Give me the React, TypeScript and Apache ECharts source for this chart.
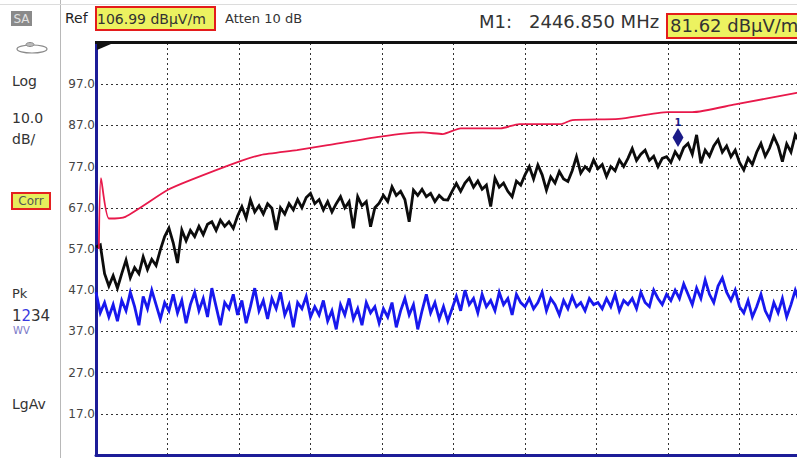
import React, { useEffect, useRef } from "react";
import * as echarts from "echarts";

// x step (in grid divisions) between trace points
const STEP = 0.06;
// bottom of the display in dBµV/m (Ref 106.99 → top ≈ 107, 10 dB/div)
const OFFSET = 7;

const blackTrace = [
  57.5, 58, 51, 48, 50.5, 47.5, 51, 54.3, 50, 52.5, 51, 55.1, 52, 54.5, 53, 56.8, 60,
  62.1, 58.5, 53.6, 61.6, 59, 61.5, 60, 62.5, 60.5, 63, 63.6, 61.5, 64, 62.5, 63.6, 62,
  65, 67.3, 64.5, 68.9, 66, 67.5, 65.5, 68, 66.9, 61.6, 67, 65.5, 68, 66.5, 69, 67,
  69.5, 70.5, 68, 69, 66.5, 68.5, 66, 68, 69.7, 67, 68.5, 62, 69.7, 67.5, 68.5, 62.4,
  67, 68.1, 70, 68.5, 72.1, 70, 71, 69, 63.6, 71.3, 70, 71.5, 69.7, 70.5, 68.5, 70,
  69, 68.9, 71, 72.9, 71, 73, 74.2, 72, 73.5, 71.5, 72.5, 67.3, 74.2, 72, 73, 71,
  69.7, 73.5, 72.5, 75, 77, 74, 77.4, 75, 71.3, 74.5, 73, 75.8, 74, 73.4, 76, 79.4,
  75.4, 77, 76, 78.6, 76.5, 77.5, 74.6, 77, 76, 78.6, 77, 79, 81.4, 78.5, 80, 81,
  78.5, 79.5, 77, 79, 79.4, 78, 80.6, 79, 81.6, 82.6, 80, 84.7, 77.8, 81, 79.5, 82,
  83.5, 80.5, 82, 79.4, 81, 78, 76.2, 79, 77.5, 80.5, 82.6, 79.5, 81.5, 84.3, 82,
  78.2, 82.5, 80.5, 84.7, 83, 84,
];

const blueTrace = [
  46.5, 41.5, 44, 40.5, 43.5, 39.5, 44.5, 42, 46.5, 43, 38.5, 45.5, 42.5, 47, 43.5, 40, 44,
  42, 46, 41.5, 44.5, 39, 43.5, 46.5, 42, 45, 40.5, 47.5, 43, 38.5, 44, 42.5, 46, 41,
  44.5, 39, 43, 47.5, 42, 44.5, 40, 45, 42.5, 46.5, 41, 43.5, 38, 44, 42.5, 45.5, 40.5,
  43, 41, 44.5, 39.5, 42, 37.5, 43.5, 41, 45, 40, 42.5, 38.5, 44, 41.5, 43, 39,
  42.5, 40.5, 44, 38, 42, 45, 41, 43.5, 37.5, 42, 46, 41.5, 44, 40, 43, 39.5, 42.5,
  45.5, 42, 47, 43.5, 45, 41.5, 46, 43, 44.5, 42, 46.5, 43.5, 45, 41, 46, 44, 43,
  45, 42.5, 44, 46.5, 42, 45, 43.5, 41, 44.5, 42.5, 45.5, 43, 44, 42, 45, 43.5,
  44, 42.5, 45, 43, 46, 42, 44.5, 43.5, 45, 42.5, 46.5, 44, 43, 47, 45, 43.5, 46,
  44.5, 47, 45, 48.5, 46, 43.5, 47.5, 45, 49.5, 46, 44, 48, 50, 46.5, 44.5, 47, 43,
  41.5, 44.5, 40.5, 43, 46, 42, 40, 44, 41.5, 45, 40.5, 43.5, 47, 44, 46,
];

const redX = [0.04, 0.07, 0.18, 0.41, 1.0, 1.32, 2.0, 2.3, 2.81, 3.24, 3.98, 4.57, 4.85, 5.1, 5.66, 5.92, 6.5, 6.66, 7.31, 8.0, 8.34, 8.94, 9.8, 10];
const redY = [57, 74.2, 64.4, 64.8, 71.3, 73.7, 78.2, 79.8, 81, 82.2, 84.3, 85.3, 84.9, 86.3, 86.3, 87.3, 87.3, 88.3, 88.6, 90.2, 90.2, 92.1, 94.9, 95.5];

const markerX = 8.14;
const markerY = 81.62;

const FONT = "DejaVu Sans";

export default function App() {
  const ref = useRef<HTMLDivElement>(null);
  useEffect(() => {
    if (!ref.current) return;
    const chart = echarts.init(ref.current, null, { renderer: "svg" });
    const txt = (text: string, x: number, y: number, size: number, fill = "#333", extra: any = {}) => ({
      type: "text",
      x,
      y,
      silent: true,
      style: { text, fill, fontSize: size, fontFamily: FONT, verticalAlign: "middle", ...extra },
      z: 10,
    });
    chart.setOption({
      animation: false,
      backgroundColor: "#ffffff",
      grid: { left: 96, top: 43, right: -14, bottom: 3, containLabel: false, outerBoundsMode: "none" },
      xAxis: {
        type: "value",
        min: 0,
        max: 10,
        interval: 1,
        axisLabel: { show: false },
        axisTick: { show: false },
        axisLine: { show: true, lineStyle: { color: "#1c1c98", width: 3 } },
        splitLine: { show: true, lineStyle: { color: "#333", type: [2, 3], width: 1 } },
      },
      yAxis: {
        type: "value",
        min: 0,
        max: 100,
        interval: 10,
        axisTick: { show: false },
        axisLine: { show: true, lineStyle: { color: "#1c1c98", width: 3 } },
        axisLabel: {
          margin: 1,
          color: "#444",
          fontSize: 12,
          fontFamily: FONT,
          formatter: (v: number) => (v > 0 && v < 100 ? (v + OFFSET).toFixed(1) : ""),
        },
        splitLine: { show: true, lineStyle: { color: "#333", type: [2, 3], width: 1 } },
      },
      series: [
        {
          type: "line",
          data: blueTrace.map((v, i) => [i * STEP, v - OFFSET]),
          showSymbol: false,
          lineStyle: { color: "#1818ee", width: 2.8, join: "miter" },
          z: 2,
        },
        {
          type: "line",
          data: blackTrace.map((v, i) => [i * STEP, v - OFFSET]),
          showSymbol: false,
          lineStyle: { color: "#0c0c0c", width: 2.8, join: "miter" },
          z: 3,
        },
        {
          type: "line",
          data: redX.map((x, i) => [x, redY[i] - OFFSET]),
          smooth: 0.2,
          showSymbol: false,
          lineStyle: { color: "#e8194b", width: 1.8 },
          z: 4,
        },
        {
          type: "scatter",
          data: [[markerX, markerY - OFFSET]],
          symbol: "diamond",
          symbolSize: [11, 19],
          symbolOffset: [0, -10],
          itemStyle: { color: "#1a1a88", opacity: 1 },
          label: {
            show: true,
            position: "top",
            distance: 1,
            formatter: "1",
            color: "#1a1a88",
            fontSize: 10,
            fontFamily: FONT,
            fontWeight: "bold",
          },
          z: 5,
        },
      ],
      graphic: [
        { type: "line", silent: true, shape: { x1: 60.5, y1: 0, x2: 60.5, y2: 458 }, style: { stroke: "#b8b8b8", lineWidth: 1 } },
        { type: "line", silent: true, shape: { x1: 0, y1: 4.5, x2: 797, y2: 4.5 }, style: { stroke: "#dcdcdc", lineWidth: 1 } },
        { type: "line", silent: true, shape: { x1: 95, y1: 42.5, x2: 797, y2: 42.5 }, style: { stroke: "#111", lineWidth: 3 }, z: 8 },
        { type: "polygon", silent: true, shape: { points: [[97, 44], [111, 44], [97, 50]] }, style: { fill: "#111" }, z: 8 },
        // left panel
        { type: "rect", silent: true, shape: { x: 11, y: 11, width: 21, height: 15 }, style: { fill: "#8a8a8a" } },
        txt("SA", 21.5, 18.5, 12, "#e2e2e2", { align: "center" }),
        { type: "ellipse", silent: true, shape: { cx: 32, cy: 49, rx: 15, ry: 4 }, style: { fill: "none", stroke: "#8a8a8a", lineWidth: 1.2 } },
        { type: "ellipse", silent: true, shape: { cx: 30, cy: 44.5, rx: 4, ry: 2 }, style: { fill: "#bbb", stroke: "#8a8a8a", lineWidth: 1 } },
        txt("Log", 12, 81, 14),
        txt("10.0", 12, 118, 14),
        txt("dB/", 12, 139, 14),
        { type: "rect", silent: true, shape: { x: 12, y: 193, width: 38, height: 16 }, style: { fill: "#e6ee5c", stroke: "#e42020", lineWidth: 2 } },
        txt("Corr", 31, 201, 12, "#555", { align: "center" }),
        txt("Pk", 12, 293, 13),
        {
          type: "text",
          x: 12,
          y: 316,
          silent: true,
          style: {
            text: "{a|1}{b|2}{a|34}",
            verticalAlign: "middle",
            fontFamily: FONT,
            fontSize: 15,
            rich: {
              a: { fill: "#333", fontSize: 15, fontFamily: FONT },
              b: { fill: "#3a3ae0", fontSize: 15, fontFamily: FONT },
            },
          },
        },
        txt("WV", 13, 330, 10, "#7a78c8"),
        txt("LgAv", 12, 404, 14),
        // header
        txt("Ref", 65, 18, 14, "#222"),
        { type: "rect", silent: true, shape: { x: 96, y: 7, width: 119, height: 23 }, style: { fill: "#ecf260", stroke: "#e41c1c", lineWidth: 2 }, z: 9 },
        txt("106.99 dBµV/m", 97, 19, 14, "#333"),
        txt("Atten 10 dB", 225, 18, 13, "#333"),
        txt("M1:", 479, 21, 18, "#333"),
        txt("2446.850 MHz", 529, 21, 18, "#333"),
        { type: "rect", silent: true, shape: { x: 667, y: 14, width: 140, height: 24 }, style: { fill: "#ecf260", stroke: "#e41c1c", lineWidth: 2 }, z: 9 },
        txt("81.62 dBµV/m", 670, 25, 18, "#333"),
      ],
    });
    return () => chart.dispose();
  }, []);
  return (
    <div
      ref={ref}
      style={{ position: "fixed", left: 0, top: 0, width: 797, height: 458, background: "#fff" }}
    />
  );
}
